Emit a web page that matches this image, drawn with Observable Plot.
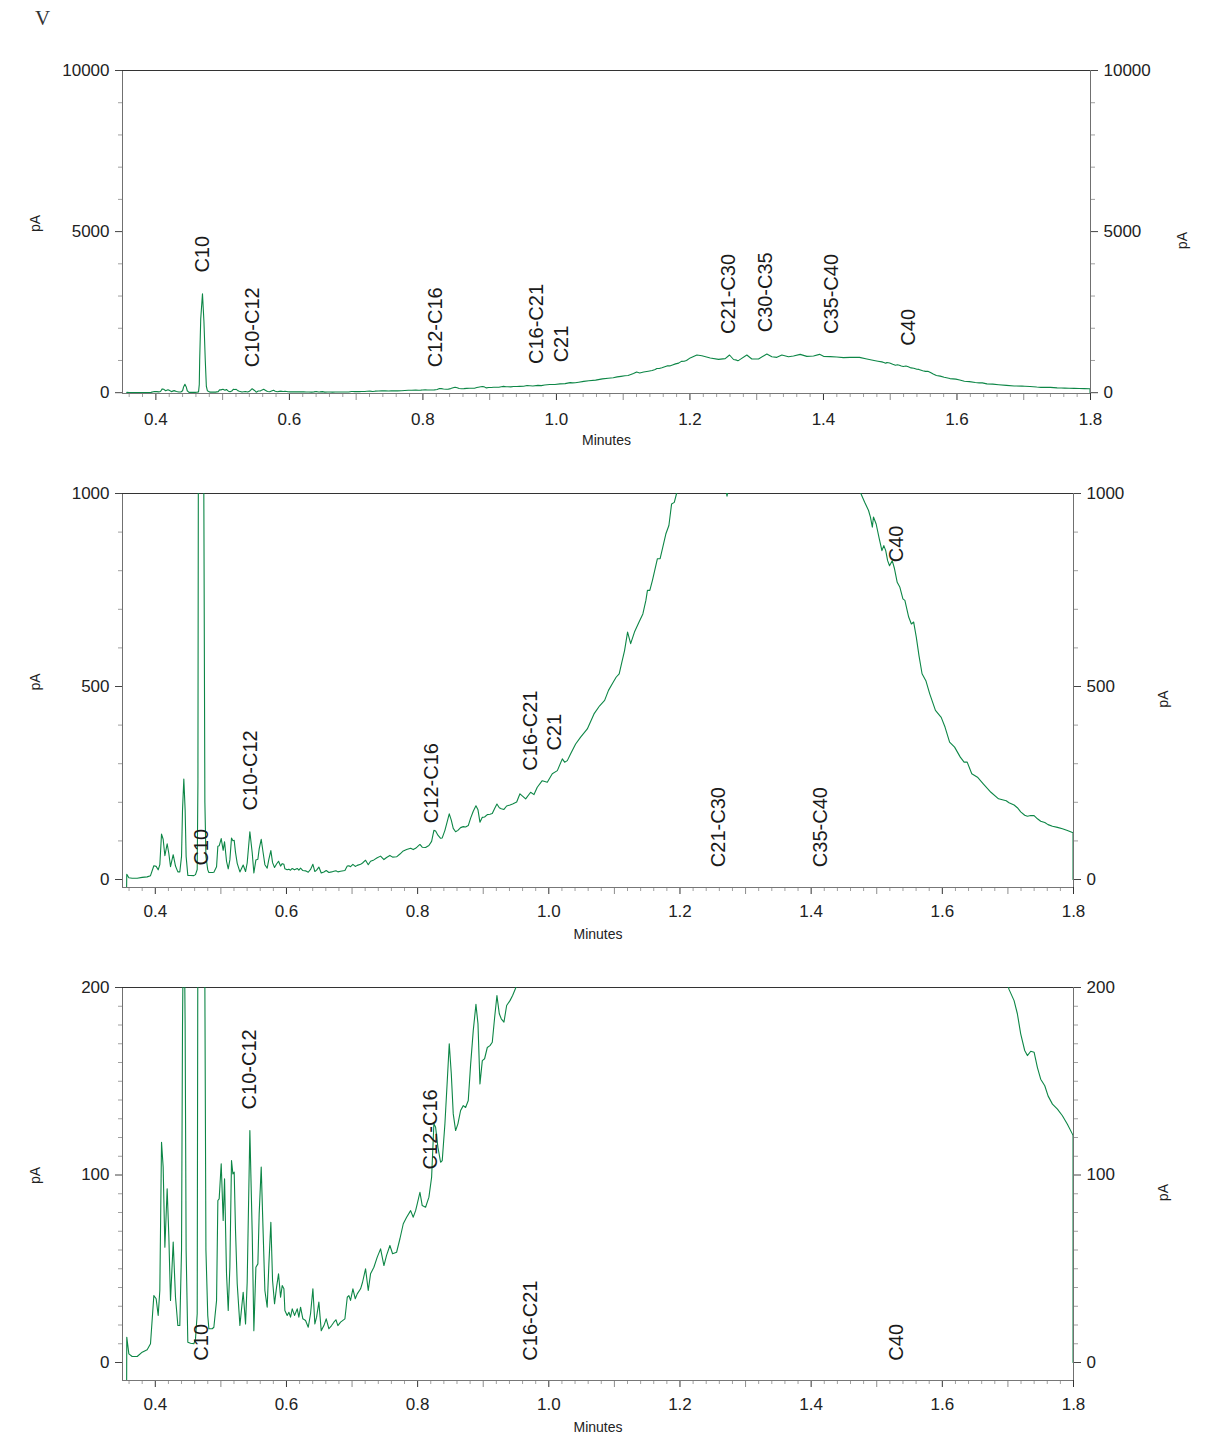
<!DOCTYPE html>
<html><head><meta charset="utf-8">
<script src="https://cdn.jsdelivr.net/npm/d3@7"></script>
<script src="https://cdn.jsdelivr.net/npm/@observablehq/plot@0.6"></script>
<style>
body{margin:0;background:#fff;}
#page{position:relative;width:1214px;height:1436px;overflow:hidden;background:#fff;font-family:"Liberation Sans",Arial,sans-serif;}
.panel{position:absolute;left:0;}
</style></head><body><div id="page">
<svg width="300" height="40" style="position:absolute;left:0;top:0"><text x="35" y="25" font-family="'Liberation Serif','DejaVu Serif',serif" font-size="21" fill="#333">V</text></svg>
</div>
<script>
// Retention time (minutes) and detector signal (pA)
const times = [
0.3560,0.3565,0.3597,0.3647,0.3724,0.3800,0.3876,0.3927,0.3978,0.4013,0.4044,0.4069,0.4095,0.4120,0.4146,0.4181,0.4207,0.4232,0.4273,0.4308,
0.4344,0.4374,0.4400,0.4415,0.4435,0.4455,0.4470,0.4496,0.4537,0.4588,0.4613,0.4639,0.4650,0.4656,0.4672,0.4698,0.4720,0.4740,0.4756,0.4772,
0.4800,0.4817,0.4868,0.4893,0.4934,0.4954,0.4974,0.5005,0.5035,0.5056,0.5086,0.5112,0.5137,0.5162,0.5183,0.5203,0.5223,0.5249,0.5290,0.5340,
0.5376,0.5401,0.5442,0.5478,0.5503,0.5534,0.5564,0.5584,0.5615,0.5645,0.5671,0.5706,0.5732,0.5762,0.5788,0.5818,0.5849,0.5879,0.5910,0.5935,
0.5961,0.5976,0.6011,0.6037,0.6062,0.6088,0.6123,0.6164,0.6189,0.6215,0.6250,0.6291,0.6332,0.6367,0.6403,0.6433,0.6459,0.6494,0.6530,0.6571,
0.6606,0.6647,0.6688,0.6723,0.6754,0.6784,0.6825,0.6891,0.6927,0.6952,0.6977,0.7013,0.7049,0.7079,0.7130,0.7160,0.7206,0.7247,0.7282,0.7333,
0.7384,0.7435,0.7486,0.7526,0.7577,0.7618,0.7679,0.7730,0.7781,0.7832,0.7893,0.7933,0.7969,0.7994,0.8035,0.8070,0.8121,0.8172,0.8213,0.8248,
0.8274,0.8309,0.8350,0.8375,0.8416,0.8452,0.8482,0.8513,0.8543,0.8579,0.8614,0.8655,0.8696,0.8731,0.8772,0.8808,0.8848,0.8889,0.8920,0.8950,
0.8986,0.9021,0.9062,0.9103,0.9138,0.9174,0.9209,0.9245,0.9275,0.9316,0.9357,0.9408,0.9448,0.9510,0.9560,0.9647,0.9723,0.9774,0.9824,0.9900,
0.9977,1.0053,1.0130,1.0206,1.0241,1.0282,1.0333,1.0409,1.0485,1.0587,1.0689,1.0775,1.0851,1.0910,1.0968,1.1026,1.1073,1.1114,1.1155,1.1201,
1.1248,1.1306,1.1376,1.1434,1.1480,1.1504,1.1540,1.1580,1.1656,1.1697,1.1738,1.1784,1.1831,1.1872,1.1913,1.1948,1.2004,1.2104,1.2179,1.2304,
1.2428,1.2528,1.2593,1.2653,1.2700,1.2717,1.2735,1.2753,1.2852,1.2927,1.3027,1.3152,1.3227,1.3302,1.3377,1.3476,1.3551,1.3651,1.3751,1.3851,
1.3941,1.4001,1.4101,1.4200,1.4300,1.4400,1.4540,1.4650,1.4758,1.4816,1.4875,1.4904,1.4933,1.4950,1.4991,1.5038,1.5079,1.5108,1.5137,1.5166,
1.5195,1.5236,1.5271,1.5312,1.5353,1.5399,1.5429,1.5487,1.5528,1.5563,1.5603,1.5644,1.5691,1.5749,1.5808,1.5895,1.5983,1.6041,1.6111,1.6187,
1.6274,1.6332,1.6379,1.6449,1.6536,1.6624,1.6741,1.6857,1.6974,1.7017,1.7094,1.7144,1.7195,1.7256,1.7297,1.7348,1.7399,1.7450,1.7500,1.7562,
1.7612,1.7679,1.7755,1.7831,1.7907,1.7984,1.7993,1.7993
];
const signal = [
-60,13.5,4.6,3.2,3.2,5.5,6.8,10,35.7,34,25.1,38.4,117.5,104.2,61.5,92.6,66.8,33.1,64.2,34.8,
19.7,19.7,60,180,260,180,60,10.8,10.3,10,12.6,26,250,1000,2300,3070,2200,1000,200,60,
25,18,18,18.8,33,86.4,87.3,106,75.7,98,47.3,27.7,50.8,107.7,100.6,101.5,70.4,42,19.7,37.5,
20.6,42.8,123.7,68.6,17,50.8,52.6,79.3,104.2,68.6,38.4,29.5,52.6,74.8,43.7,31.3,40.2,47.3,34.8,41,
39.3,27.7,25.1,26.8,24.2,28.6,25.1,28.6,24.2,29.5,23.3,22.4,18.8,26,39.3,20.6,24.2,32.2,17,19.7,
23.3,18,19.7,21.5,22.8,19.7,21.5,23.3,34.8,35.7,33.1,39.3,34,36.6,39.3,42.8,50,38.4,47.3,50.8,
56.2,60.6,51.7,57.1,62.4,58,58.8,66,74,77.5,81,77.5,81,84.6,90.8,83.7,82.8,88.2,98.8,127.3,
125.5,114.8,106.8,107.7,127.3,150.4,170,154,132.6,123.7,127.3,134.4,137,136,139.7,159,177,191,180.6,148.6,
161,162,168,169,170.8,184,195.7,186,183.3,181.5,190.4,193,195.7,201,222,209,226,220,239,256,
252,274,282,312.6,304,308,325.6,351,368.7,390,429,450,464,490,507,524,533,563,593,641,
611,641,667,688,723,749,749,775,831,831,861,895,917,973,977,1000,1080,1170,1149,1077,
1035,1056,1170,1030,1010,993,1010,1035,1170,1046,1046,1201,1118,1097,1170,1118,1139,1190,1128,1139,
1190,1128,1118,1108,1087,1097,1097,1046,1000,977.5,956,939,913,939,921,883,852,865,852,826,
813,826,805,770,757,727,723,680,662,667,628,580,533,515,481,438,420,395,356,343,
317,304,304,274,265,248,226,209,204,199,193,186,175.3,166.4,163.7,166,165.5,157.3,151.1,147.6,
142.2,137.8,135.1,131.6,127.1,121.8,121,0
];

// Peak-group annotations: name, retention time, and the pA level where each label starts, per panel
const names1  = ["C10","C10-C12","C12-C16","C16-C21","C21","C21-C30","C30-C35","C35-C40","C40"];
const ltimes1 = [0.4698,0.5442,0.8187,0.9710,1.0083,1.2578,1.3137,1.4115,1.5273];
const levels1 = [3727,786,786,890,942,1822,1874,1822,1460];

const names2  = ["C10","C10-C12","C12-C16","C16-C21","C21","C21-C30","C35-C40","C40"];
const ltimes2 = [0.4705,0.5452,0.8208,0.9722,1.0089,1.2590,1.4146,1.5300];
const levels2 = [36,179,146,282,334,32,32,822];

const names3  = ["C10","C10-C12","C12-C16","C16-C21","C40"];
const ltimes3 = [0.4705,0.5442,0.8198,0.9722,1.5304];
const levels3 = [1,135,103,1,1];

// Axis ticks
const xMajor = [0.4,0.6,0.8,1.0,1.2,1.4,1.6,1.8];
const xMid = [0.5,0.7,0.9,1.1,1.3,1.5,1.7];
const xMinor = d3.range(18, 90).filter(i => i % 5 !== 0).map(i => i / 50);

const yMajor1 = [0,5000,10000], yMinor1 = [1000,2000,3000,4000,6000,7000,8000,9000];
const yMajor2 = [0,500,1000],   yMinor2 = [100,200,300,400,600,700,800,900];
const yMajor3 = [0,100,200],    yMinor3 = d3.range(1,20).filter(i => i !== 10).map(i => i * 10);

const GREEN = "#0d8646";
const FONT = "'Liberation Sans', Arial, Helvetica, sans-serif";
const data = times.map((t, i) => ({t, v: signal[i]}));

function panel({top, plotH, marginBottom, marginRight, yDomain, yMajor, yMinor, names, ltimes, levels, xPad, pARight}) {
  const labels = names.map((n, i) => ({n, t: ltimes[i], v: levels[i]}));
  const fmt = d => String(d);
  const p = Plot.plot({
    width: 1214,
    height: 30 + plotH + marginBottom,
    marginLeft: 122, marginRight, marginTop: 30, marginBottom,
    x: {domain: [0.35, 1.8]},
    y: {domain: yDomain},
    style: {fontFamily: FONT, background: "white", color: "#222", overflow: "visible"},
    marks: [
      Plot.axisX({ticks: xMinor, tickSize: 4, tickFormat: () => "", stroke: "#a0a0a0", label: null}),
      Plot.axisX({ticks: xMid, tickSize: 7, tickFormat: () => "", stroke: "#8c8c8c", label: null}),
      Plot.axisX({ticks: xMajor, tickSize: 7, tickPadding: xPad, tickFormat: d => d.toFixed(1), fontSize: 17, stroke: "#333", fill: "#222", label: null}),
      Plot.axisY({anchor: "left", ticks: yMinor, tickSize: 4, tickFormat: () => "", stroke: "#a0a0a0", label: null}),
      Plot.axisY({anchor: "left", ticks: yMajor, tickSize: 7, tickPadding: 6, tickFormat: fmt, fontSize: 17, stroke: "#444", fill: "#222", label: null}),
      Plot.axisY({anchor: "right", ticks: yMinor, tickSize: 4, tickFormat: () => "", stroke: "#a0a0a0", label: null}),
      Plot.axisY({anchor: "right", ticks: yMajor, tickSize: 7, tickPadding: 6, tickFormat: fmt, fontSize: 17, stroke: "#444", fill: "#222", label: null}),
      Plot.ruleX([0.35], {stroke: "#707070"}),
      Plot.ruleX([1.8], {stroke: "#707070"}),
      Plot.ruleY([yDomain[0]], {stroke: "#777"}),
      Plot.ruleY([yDomain[1]], {stroke: "#333"}),
      Plot.line(data, {x: "t", y: "v", stroke: GREEN, strokeWidth: 1.1, clip: true}),
      Plot.text(labels, {x: "t", y: "v", text: "n", rotate: -90, textAnchor: "start", fontSize: 20, fill: "#1a1a1a"}),
      Plot.text(["Minutes"], {frameAnchor: "bottom", dy: 47, lineAnchor: "middle", fontSize: 14, fill: "#222"}),
      Plot.text(["pA"], {frameAnchor: "left", dx: -87, rotate: -90, fontSize: 14, fill: "#222"}),
      Plot.text(["pA"], {frameAnchor: "right", dx: pARight, rotate: -90, fontSize: 14, fill: "#222"})
    ]
  });
  const div = document.createElement("div");
  div.className = "panel";
  div.style.top = top + "px";
  div.appendChild(p);
  document.getElementById("page").appendChild(div);
}

panel({top: 40, plotH: 323, marginBottom: 60, marginRight: 124, yDomain: [-25, 10000],
  yMajor: yMajor1, yMinor: yMinor1, names: names1, ltimes: ltimes1, levels: levels1, xPad: 12, pARight: 92});
panel({top: 463, plotH: 394, marginBottom: 60, marginRight: 141, yDomain: [-20.7, 1000],
  yMajor: yMajor2, yMinor: yMinor2, names: names2, ltimes: ltimes2, levels: levels2, xPad: 10, pARight: 90});
panel({top: 957, plotH: 393, marginBottom: 56, marginRight: 141, yDomain: [-9.6, 200],
  yMajor: yMajor3, yMinor: yMinor3, names: names3, ltimes: ltimes3, levels: levels3, xPad: 10, pARight: 90});
</script>
</body></html>
